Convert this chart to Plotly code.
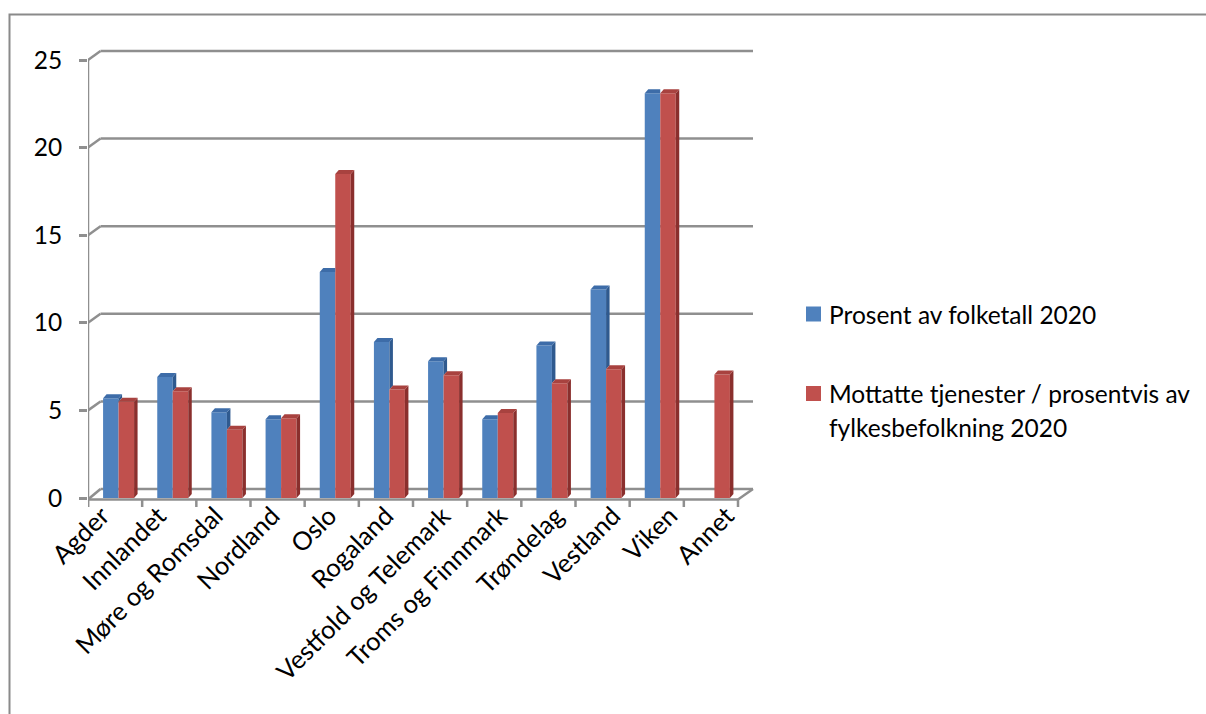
import plotly.graph_objects as go

# --- data -------------------------------------------------------------
categories = [
    "Agder", "Innlandet", "Møre og Romsdal", "Nordland", "Oslo", "Rogaland",
    "Vestfold og Telemark", "Troms og Finnmark", "Trøndelag", "Vestland",
    "Viken", "Annet",
]
folketall_pct = [5.7, 6.9, 4.9, 4.5, 12.9, 8.9, 7.8, 4.5, 8.7, 11.9, 23.1, None]
tjenester_pct = [5.5, 6.1, 3.9, 4.55, 18.5, 6.2, 7.0, 4.85, 6.55, 7.35, 23.1, 7.05]
y_ticks = [0, 5, 10, 15, 20, 25]
series_names = [
    "Prosent av folketall 2020",
    "Mottatte tjenester / prosentvis av fylkesbefolkning 2020",
]

# --- page / plot geometry ---------------------------------------------
W, H = 1206, 714
ML, MR, MT, MB = 88, 446, 40, 207
PW, PH = W - ML - MR, H - MT - MB
CAT_PX = 650 / len(categories)      # pixels per category on the front axis
LABEL_PX = 56.8                     # category label spacing (perspective spread)
LABEL_X0 = 112                      # page x of the first category label anchor
VAL_PX = 17.52                      # pixels per unit of value
ZERO_PX = 498                       # page y of value 0
x_range = [-0.5, -0.5 + PW / CAT_PX]
x2_range = [(ML - LABEL_X0) / LABEL_PX, (ML + PW - LABEL_X0) / LABEL_PX]
y_range = [-(MT + PH - ZERO_PX) / VAL_PX, (ZERO_PX - MT) / VAL_PX]

def dx(px):
    return px / CAT_PX

def dy(px):
    return px / VAL_PX

def paper_x(px):
    return (px - ML) / PW

def paper_y(py):
    return (MT + PH - py) / PH

FONT = "Lato"
GRID = "#8f8f8f"
BLUE, BLUE_SIDE, BLUE_TOP = "#4F81BD", "#2F5A8F", "#3D6CA8"
RED, RED_SIDE, RED_TOP = "#C0504D", "#8A2F2D", "#A8423F"

BAR_W = dx(15.5)
OFF_BLUE = dx(-12)
OFF_RED = OFF_BLUE + BAR_W
SIDE_X, SIDE_Y = dx(3.5), dy(4)          # bar depth
WALL_X, WALL_Y = dx(12.5), dy(9)         # floor / back wall depth
FLOOR_FRONT = -dy(1.5)
n = len(categories)
x_pos = list(range(n))
right_back = -0.5 + dx(665)

shapes = []

def line(x0, y0, x1, y1, layer="below", color=GRID, width=2.5):
    shapes.append(dict(type="line", xref="x", yref="y", x0=x0, y0=y0, x1=x1, y1=y1,
                       line=dict(color=color, width=width), layer=layer))

def poly(points, color, layer="above"):
    path = "M " + " L ".join(f"{px},{py}" for px, py in points) + " Z"
    shapes.append(dict(type="path", xref="x", yref="y", path=path,
                       fillcolor=color, line=dict(width=0), layer=layer))

# back wall grid lines with their diagonal links to the front value axis
for v in y_ticks:
    front = FLOOR_FRONT if v == 0 else v
    line(-0.5, front, -0.5 + WALL_X, v + WALL_Y)
    line(-0.5 + WALL_X, v + WALL_Y, right_back, v + WALL_Y)

# front value axis and floor
line(-0.5, FLOOR_FRONT - dy(8), -0.5, y_ticks[-1])
line(-0.5, FLOOR_FRONT, n - 0.5, FLOOR_FRONT)
line(n - 0.5, FLOOR_FRONT, right_back, WALL_Y)
for k in range(n + 1):
    line(k - 0.5, FLOOR_FRONT, k - 0.5, FLOOR_FRONT - dy(8))

# side and top faces of every column
for i in range(n):
    b, r = folketall_pct[i], tjenester_pct[i]
    if b is not None:
        bl, br = i + OFF_BLUE, i + OFF_BLUE + BAR_W
        if r is None or b > r:
            base = 0 if r is None else r
            poly([(br, base), (br, b), (br + SIDE_X, b + SIDE_Y), (br + SIDE_X, base + SIDE_Y)], BLUE_SIDE)
            poly([(bl, b), (br, b), (br + SIDE_X, b + SIDE_Y), (bl + SIDE_X, b + SIDE_Y)], BLUE_TOP)
        else:
            poly([(bl, b), (br, b), (br, b + SIDE_Y), (bl + SIDE_X, b + SIDE_Y)], BLUE_TOP)
    if r is not None:
        rl, rr = i + OFF_RED, i + OFF_RED + BAR_W
        poly([(rr, 0), (rr, r), (rr + SIDE_X, r + SIDE_Y), (rr + SIDE_X, SIDE_Y)], RED_SIDE)
        poly([(rl, r), (rr, r), (rr + SIDE_X, r + SIDE_Y), (rl + SIDE_X, r + SIDE_Y)], RED_TOP)

# outer frame of the chart object
shapes.append(dict(type="rect", xref="paper", yref="paper",
                   x0=paper_x(9.5), x1=paper_x(1230), y0=paper_y(740), y1=paper_y(14.5),
                   line=dict(color="#8a8a8a", width=2), layer="below"))

# legend keys
annotations = []
legend_rows = [(BLUE, 314, [series_names[0]]),
               (RED, 393.5, ["Mottatte tjenester / prosentvis av", "fylkesbefolkning 2020"])]
for color, cy, lines in legend_rows:
    shapes.append(dict(type="rect", xref="paper", yref="paper",
                       x0=paper_x(806), x1=paper_x(821), y0=paper_y(cy + 7.5), y1=paper_y(cy - 7.5),
                       fillcolor=color, line=dict(width=0)))
    for j, txt in enumerate(lines):
        annotations.append(dict(xref="paper", yref="paper", x=paper_x(827), y=paper_y(cy + 34 * j),
                                xanchor="left", yanchor="middle", showarrow=False, text=txt,
                                font=dict(family=FONT, size=24.5, color="#000000")))

fig = go.Figure()
fig.add_trace(go.Bar(x=x_pos, y=folketall_pct, name=series_names[0], width=BAR_W,
                     offset=OFF_BLUE, marker=dict(color=BLUE, line=dict(width=0))))
fig.add_trace(go.Bar(x=x_pos, y=tjenester_pct, name=series_names[1], width=BAR_W,
                     offset=OFF_RED, marker=dict(color=RED, line=dict(width=0))))
# empty carrier trace for the category label axis
fig.add_trace(go.Scatter(x=x_pos, y=[None] * n, xaxis="x2", mode="markers",
                         showlegend=False, hoverinfo="skip"))

fig.update_layout(
    width=W, height=H,
    margin=dict(l=ML, r=MR, t=MT, b=MB),
    paper_bgcolor="white", plot_bgcolor="white",
    barmode="overlay", showlegend=False,
    font=dict(family=FONT, size=24, color="#000000"),
    shapes=shapes, annotations=annotations,
    xaxis=dict(range=x_range, showticklabels=False, showgrid=False, zeroline=False,
               showline=False, ticks=""),
    xaxis2=dict(range=x2_range, overlaying="x", side="bottom", anchor="y",
                tickmode="array", tickvals=x_pos, ticktext=categories,
                tickangle=-45, showgrid=False, zeroline=False, showline=False, ticks="",
                ticklabelshift=-10, ticklabelstandoff=-12,
                tickfont=dict(family=FONT, size=25.5, color="#000000")),
    yaxis=dict(range=y_range, tickmode="array", tickvals=y_ticks, showgrid=False,
               zeroline=False, showline=False, ticks="outside", ticklen=8, tickwidth=2.5,
               tickcolor=GRID, ticklabelstandoff=12,
               tickfont=dict(family=FONT, size=24.5, color="#000000")),
)

fig.write_html("out.html")
